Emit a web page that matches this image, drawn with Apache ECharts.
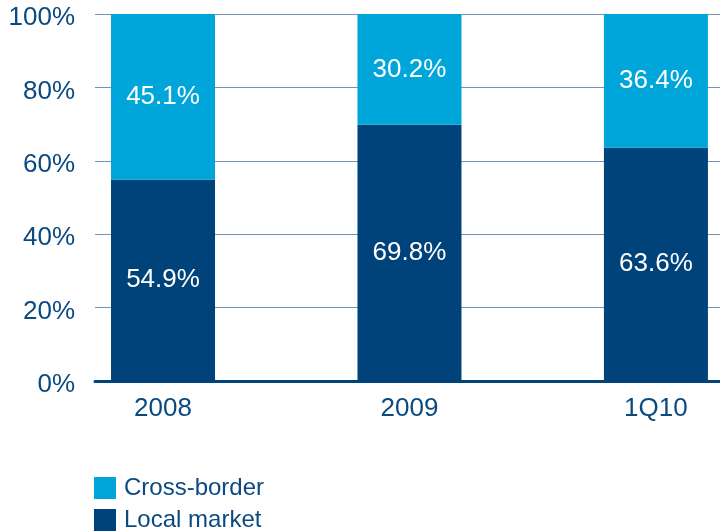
<!DOCTYPE html>
<html>
<head>
<meta charset="utf-8">
<style>
  html, body { margin: 0; padding: 0; background: #fff; }
  #main { width: 720px; height: 531px; }
</style>
<script src="https://cdn.jsdelivr.net/npm/echarts@6/dist/echarts.min.js"></script>
</head>
<body>
<div id="main"></div>
<script>
const categories = ['2008', '2009', '1Q10'];
const localMarket = [54.9, 69.8, 63.6];
const crossBorder = [45.1, 30.2, 36.4];
const yTicks = [0, 20, 40, 60, 80, 100];
const legendNames = ['Cross-border', 'Local market'];

const chart = echarts.init(document.getElementById('main'));
const textColor = '#0b4a80';
const font = 'Liberation Sans, Arial, sans-serif';

// bars sit on a value x axis so the plot can be cut off at the right edge
const xPos = categories.map((c, i) => i);

// share value first, so the stack is done on the y dimension
const pctLabel = {
  show: true, position: 'inside', color: '#fff', fontSize: 26, fontFamily: font,
  formatter: p => p.value[0].toFixed(1) + '%'
};

// one legend per row, stacked under each other
const legends = legendNames.map((name, i) => ({
  left: 94,
  top: 476 + i * 32,
  padding: 0,
  itemWidth: 22,
  itemHeight: 22,
  icon: 'rect',
  data: [name],
  textStyle: { fontSize: 24, color: textColor, fontFamily: font, padding: [0, 0, 0, 3] }
}));

chart.setOption({
  animation: false,
  backgroundColor: '#fff',
  textStyle: { fontFamily: font },
  grid: { left: 95, right: 0, top: 14, bottom: 150 },
  legend: legends,
  xAxis: {
    type: 'value',
    min: -0.276,
    max: 2.26,
    axisLine: { show: true, onZero: false, lineStyle: { color: '#00427a', width: 3 } },
    axisTick: { show: false },
    splitLine: { show: false },
    axisLabel: {
      customValues: xPos,
      fontSize: 26, color: textColor, margin: 15, fontFamily: font,
      formatter: v => categories[Math.round(v)]
    }
  },
  yAxis: {
    type: 'value', min: 0, max: 100, interval: 20,
    axisLine: { show: false }, axisTick: { show: false },
    axisLabel: {
      fontSize: 26, color: textColor, margin: 20, fontFamily: font,
      // labels sit a little below their grid lines
      formatter: v => yTicks.includes(v) ? '{t|' + v + '%}' : '',
      rich: {
        t: { fontSize: 26, color: textColor, fontFamily: font, padding: [8, 0, 0, 0] }
      }
    },
    splitLine: { lineStyle: { color: '#7893b2', width: 1 } }
  },
  series: [
    {
      name: 'Local market', type: 'bar', stack: 'total',
      barWidth: 104,
      encode: { x: 1, y: 0 },
      data: xPos.map(i => [localMarket[i], i]),
      itemStyle: { color: '#00427a' },
      label: pctLabel
    },
    {
      name: 'Cross-border', type: 'bar', stack: 'total',
      barWidth: 104,
      encode: { x: 1, y: 0 },
      data: xPos.map(i => [crossBorder[i], i]),
      itemStyle: { color: '#00a5d9' },
      label: pctLabel
    }
  ]
});
</script>
</body>
</html>
